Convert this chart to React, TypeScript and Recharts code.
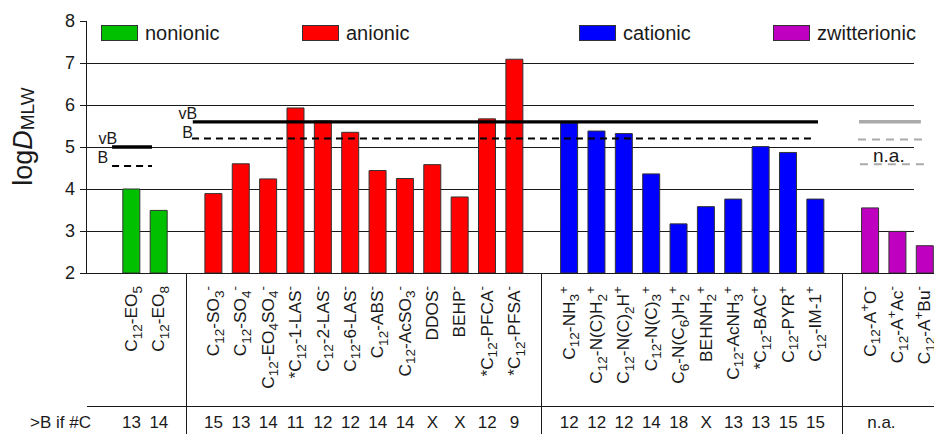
import React from "react";
import { BarChart, Bar, Cell, XAxis, YAxis, ReferenceLine, Legend } from "recharts";

const FONT = "'Liberation Sans', Arial, Helvetica, sans-serif";
const INK = "#1a1a1a";

const groupNames = ["nonionic", "anionic", "cationic", "zwitterionic"];
const groupColors = ["#00c000", "#ff0000", "#0000ff", "#c000c0"];

const nonionicLabels = ["C_{12}-EO_{5}", "C_{12}-EO_{8}"];
const nonionicValues = [4.0, 3.49];
const nonionicCarbons = ["13", "14"];

const anionicLabels = [
  "C_{12}-SO_{3}^{-}", "C_{12}-SO_{4}^{-}", "C_{12}-EO_{4}SO_{4}^{-}", "*C_{12}-1-LAS^{-}",
  "C_{12}-2-LAS^{-}", "C_{12}-6-LAS^{-}", "C_{12}-ABS^{-}", "C_{12}-AcSO_{3}^{-}",
  "DDOS^{-}", "BEHP^{-}", "*C_{12}-PFCA^{-}", "*C_{12}-PFSA^{-}",
];
const anionicValues = [3.89, 4.6, 4.24, 5.93, 5.62, 5.35, 4.44, 4.25, 4.58, 3.81, 5.67, 7.09];
const anionicCarbons = ["15", "13", "14", "11", "12", "12", "14", "14", "X", "X", "12", "9"];

const cationicLabels = [
  "C_{12}-NH_{3}^{+}", "C_{12}-N(C)H_{2}^{+}", "C_{12}-N(C)_{2}H^{+}", "C_{12}-N(C)_{3}^{+}",
  "C_{6}-N(C_{6})H_{2}^{+}", "BEHNH_{2}^{+}", "C_{12}-AcNH_{3}^{+}", "*C_{12}-BAC^{+}",
  "C_{12}-PYR^{+}", "C_{12}-IM-1^{+}",
];
const cationicValues = [5.57, 5.38, 5.32, 4.36, 3.17, 3.58, 3.76, 5.01, 4.87, 3.76];
const cationicCarbons = ["12", "12", "12", "14", "18", "X", "13", "13", "15", "15"];

const zwitterionicLabels = ["C_{12}-A^{+}O^{-}", "C_{12}-A^{+}Ac^{-}", "C_{12}-A^{+}Bu^{-}"];
const zwitterionicValues = [3.55, 2.99, 2.65];
const zwitterionicCarbons = ["n.a.", "", ""];

const yTicks = [2, 3, 4, 5, 6, 7, 8];
const gridValues = [3, 4, 5, 6, 7];

// vB / B limits: nonionic, ionic (anionic + cationic), zwitterionic
const limitVB = [5.0, 5.6, 5.6];
const limitB = [4.55, 5.2, 5.18];
const limitBAlt = [null, null, 4.59];

const groupLabels = [nonionicLabels, anionicLabels, cationicLabels, zwitterionicLabels];
const groupValues = [nonionicValues, anionicValues, cationicValues, zwitterionicValues];
const groupCarbons = [nonionicCarbons, anionicCarbons, cationicCarbons, zwitterionicCarbons];

// one slot per bar, one empty slot between groups
type Row = { pos: number; name: string; value: number; carbons: string; group: number };
const rows: Row[] = [];
const spans: number[][] = [];
let p = 0;
groupLabels.forEach((labels, g) => {
  const start = p;
  labels.forEach((name, j) => {
    rows.push({ pos: p, name, value: groupValues[g][j], carbons: groupCarbons[g][j], group: g });
    p++;
  });
  spans.push([start, p - 1]);
  if (g < groupLabels.length - 1) p++;
});
const allPositions = Array.from({ length: p }, (_, i) => i);
const rowByPos = new Map(rows.map((r) => [r.pos, r]));

const X_MIN = -1.663;
const X_MAX = 29.33;
const GRID_END = 28.6;

const AXIS_H = 161;
const ROW_LINE = 133;

const SUB_DY = 4.5;
const SUP_DY = -7;

function rich(src: string, size: number, small: number) {
  const parts = src.split(/(_\{[^}]*\}|\^\{[^}]*\})/).filter(Boolean);
  let cur = 0;
  return parts.map((part, i) => {
    const kind = part.startsWith("_{") ? "sub" : part.startsWith("^{") ? "sup" : "n";
    const text = kind === "n" ? part : part.slice(2, -1);
    const target = kind === "sub" ? SUB_DY : kind === "sup" ? SUP_DY : 0;
    const dy = target - cur;
    cur = target;
    return (
      <tspan key={i} dy={dy} fontSize={kind === "n" ? size : small}>
        {text}
      </tspan>
    );
  });
}

const CategoryTick = (props: any) => {
  const { x, y, payload } = props;
  const row = rowByPos.get(payload.value);
  if (!row) {
    return (
      <line x1={x} x2={x} y1={y} y2={y + AXIS_H} stroke={INK} strokeWidth={1} shapeRendering="crispEdges" />
    );
  }
  const wide = row.carbons.length > 2;
  return (
    <g>
      <text
        transform={`translate(${x + 5.5},${y + 13}) rotate(-90)`}
        textAnchor="end"
        fontFamily={FONT}
        fill={INK}
      >
        {rich(row.name, 17.3, 13.5)}
      </text>
      {row.carbons ? (
        <text
          x={wide ? x - 3 : x}
          y={y + 155}
          textAnchor={wide ? "start" : "middle"}
          fontFamily={FONT}
          fontSize={17}
          fill={INK}
        >
          {row.carbons}
        </text>
      ) : null}
    </g>
  );
};

// divider above the carbon-number row and its title
const RowTitle = (props: any) => {
  const vb = props.viewBox || { x: 86, y: 273, width: 848 };
  return (
    <g>
      <line
        x1={vb.x + 1}
        x2={vb.x + vb.width}
        y1={vb.y + ROW_LINE}
        y2={vb.y + ROW_LINE}
        stroke={INK}
        strokeWidth={1}
        shapeRendering="crispEdges"
      />
      <text x={30} y={vb.y + 155} fontFamily={FONT} fontSize={17} fill={INK}>
        {">B if #C"}
      </text>
    </g>
  );
};

const YTitle = () => (
  <text transform="translate(32,136.5) rotate(-90)" textAnchor="middle" fontFamily={FONT} fill={INK}>
    <tspan fontSize={27}>log</tspan>
    <tspan fontSize={27} fontStyle="italic">D</tspan>
    <tspan fontSize={19} dy={2}>MLW</tspan>
  </text>
);

const legendLeft = [101, 302, 579, 773];
const LegendContent = () => (
  <div style={{ position: "relative", width: 934, height: 50, fontFamily: FONT }}>
    {groupNames.map((g, i) => (
      <div
        key={g}
        style={{ position: "absolute", left: legendLeft[i], top: 25, display: "flex", alignItems: "center" }}
      >
        <span
          style={{
            display: "inline-block",
            width: 35,
            height: 14,
            background: groupColors[i],
            border: "1px solid #333",
          }}
        />
        <span style={{ marginLeft: 7, fontSize: 20, lineHeight: "16px", color: INK }}>{g}</span>
      </div>
    ))}
  </div>
);

const LimitLabel = (props: any) => {
  const { viewBox, text, dx, dy, anchor, size } = props;
  if (!viewBox) return null;
  return (
    <text
      x={viewBox.x + dx}
      y={viewBox.y + dy}
      textAnchor={anchor}
      fontFamily={FONT}
      fontSize={size}
      fill={INK}
    >
      {text}
    </text>
  );
};

const solidBlack = { stroke: "#000", strokeWidth: 3.3 };
const dashBlack = { stroke: "#000", strokeWidth: 2, strokeDasharray: "7 5" };
const solidGrey = { stroke: "#aaaaaa", strokeWidth: 3.5 };
const dashGrey = { stroke: "#aaaaaa", strokeWidth: 2, strokeDasharray: "8 6" };

const nonSpan = spans[0];
const ionSpan = [spans[1][0], spans[2][1]];
const zwSpan = spans[3];

const limitLines = [
  { y: limitVB[0], x1: nonSpan[0] - 0.71, x2: nonSpan[1] - 0.25, style: solidBlack, text: "vB", dx: 5, dy: -3, anchor: "end", size: 16 },
  { y: limitB[0], x1: nonSpan[0] - 0.71, x2: nonSpan[1] - 0.25, style: dashBlack, text: "B", dx: -4, dy: -2.5, anchor: "end", size: 16 },
  { y: limitVB[1], x1: ionSpan[0] - 0.76, x2: ionSpan[1] + 0.09, style: solidBlack, text: "vB", dx: 4.3, dy: -2.7, anchor: "end", size: 16 },
  { y: limitB[1], x1: ionSpan[0] - 0.79, x2: ionSpan[1] - 0.02, style: dashBlack, text: "B", dx: 1, dy: -1, anchor: "end", size: 16 },
  { y: limitVB[2], x1: zwSpan[0] - 0.41, x2: zwSpan[1] - 0.15, style: solidGrey, text: "", dx: 0, dy: 0, anchor: "end", size: 16 },
  { y: limitB[2], x1: zwSpan[0] - 0.45, x2: zwSpan[1] - 0.01, style: dashGrey, text: "", dx: 0, dy: 0, anchor: "end", size: 16 },
  { y: limitBAlt[2] as number, x1: zwSpan[0] - 0.38, x2: zwSpan[1] + 0.07, style: dashGrey, text: "n.a.", dx: 29, dy: -2.5, anchor: "middle", size: 19 },
];

export default function App() {
  return (
    <div style={{ position: "absolute", left: 0, top: 0, width: 934, height: 434, overflow: "hidden", background: "#fff" }}>
      <BarChart width={934} height={434} data={rows} margin={{ top: 21, right: 0, bottom: 0, left: 0 }}>
        <Legend
          verticalAlign="middle"
          layout="horizontal"
          content={<LegendContent />}
          wrapperStyle={{ position: "absolute", top: 0, left: 0, width: 934, height: 50 }}
        />
        <XAxis
          xAxisId="main"
          dataKey="pos"
          type="number"
          domain={[X_MIN, X_MAX]}
          allowDataOverflow
          ticks={allPositions}
          interval={0}
          height={AXIS_H}
          tickLine={false}
          tickSize={0}
          tickMargin={0}
          axisLine={{ stroke: INK, strokeWidth: 1, shapeRendering: "crispEdges" }}
          tick={<CategoryTick />}
          label={<RowTitle />}
        />
        <YAxis
          type="number"
          domain={[2, 8]}
          allowDataOverflow
          ticks={yTicks}
          interval={0}
          width={86}
          tickSize={6}
          tickMargin={5}
          axisLine={{ stroke: INK, strokeWidth: 1, shapeRendering: "crispEdges" }}
          tickLine={{ stroke: INK, strokeWidth: 1, shapeRendering: "crispEdges" }}
          tick={{ fontSize: 18, fill: INK, fontFamily: FONT }}
          label={<YTitle />}
        />
        {gridValues.map((v) => (
          <ReferenceLine
            key={`grid-${v}`}
            xAxisId="main"
            zIndex={-100}
            segment={[{ x: X_MIN, y: v }, { x: GRID_END, y: v }]}
            stroke={INK}
            strokeWidth={1}
            shapeRendering="crispEdges"
          />
        ))}
        <Bar xAxisId="main" dataKey="value" barSize={17} stroke="#333" strokeWidth={1} isAnimationActive={false}>
          {rows.map((r) => (
            <Cell key={r.pos} fill={groupColors[r.group]} />
          ))}
        </Bar>
        {limitLines.map((l, i) => (
          <ReferenceLine
            key={`lim-${i}`}
            xAxisId="main"
            segment={[{ x: l.x1, y: l.y }, { x: l.x2, y: l.y }]}
            {...l.style}
            label={l.text ? <LimitLabel text={l.text} dx={l.dx} dy={l.dy} anchor={l.anchor} size={l.size} /> : undefined}
          />
        ))}
      </BarChart>
    </div>
  );
}
